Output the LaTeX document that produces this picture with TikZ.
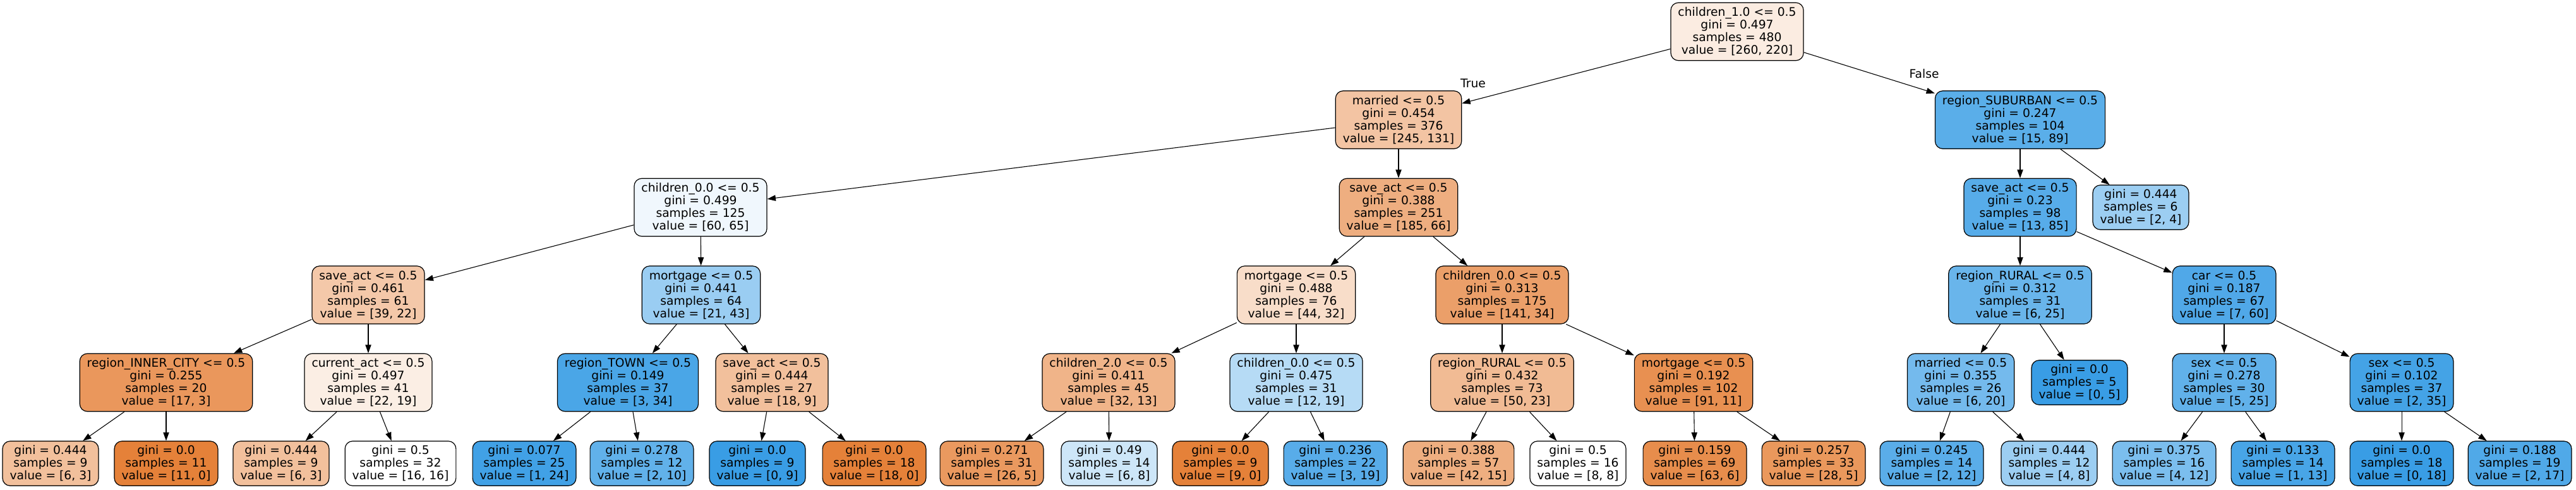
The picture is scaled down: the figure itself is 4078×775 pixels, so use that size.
\documentclass[tikz,border=0pt]{standalone}
\usepackage{fontspec}
\setmainfont{DejaVu Sans}
\usetikzlibrary{arrows.meta}
\definecolor{treeor}{RGB}{229,129,57}
\definecolor{treebl}{RGB}{57,157,229}
\tikzset{
  tn/.style={draw=black, line width=1.2pt, rounded corners=12pt, align=center,
    inner xsep=11.5pt, inner ysep=0pt, minimum height=91.5pt,
    font=\fontsize{18.7}{20}\selectfont, text=black},
  lf/.style={tn, minimum height=70.5pt},
  edge/.style={line width=1.1pt, -{Triangle[length=13.3pt,width=9.3pt]}},
  lab/.style={font=\fontsize{18.7}{20}\selectfont, inner sep=0pt}
}
\begin{document}
\begin{tikzpicture}[x=1pt,y=-1pt]
\useasboundingbox (0,0) rectangle (4078,775);
% level 0
\node[tn, fill=treeor!15.4!white] (r) at (2750,50) {children\_1.0 <= 0.5\\gini = 0.497\\samples = 480\\value = [260, 220]};
% level 1
\node[tn, fill=treeor!46.5!white] (a) at (2214,189.5) {married <= 0.5\\gini = 0.454\\samples = 376\\value = [245, 131]};
\node[tn, fill=treebl!83.1!white] (b) at (3198,189.5) {region\_SUBURBAN <= 0.5\\gini = 0.247\\samples = 104\\value = [15, 89]};
% level 2
\node[tn, fill=treebl!7.7!white] (c) at (1109,328) {children\_0.0 <= 0.5\\gini = 0.499\\samples = 125\\value = [60, 65]};
\node[tn, fill=treeor!64.3!white] (d) at (2214,328) {save\_act <= 0.5\\gini = 0.388\\samples = 251\\value = [185, 66]};
\node[tn, fill=treebl!84.7!white] (e) at (3198,328) {save\_act <= 0.5\\gini = 0.23\\samples = 98\\value = [13, 85]};
\node[lf, fill=treebl!50!white] (f) at (3389,328) {gini = 0.444\\samples = 6\\value = [2, 4]};
% level 3
\node[tn, fill=treeor!43.6!white] (g) at (583,466.5) {save\_act <= 0.5\\gini = 0.461\\samples = 61\\value = [39, 22]};
\node[tn, fill=treebl!51.2!white] (h) at (1110,466.5) {mortgage <= 0.5\\gini = 0.441\\samples = 64\\value = [21, 43]};
\node[tn, fill=treeor!27.3!white] (i) at (2052,466.5) {mortgage <= 0.5\\gini = 0.488\\samples = 76\\value = [44, 32]};
\node[tn, fill=treeor!75.9!white] (j) at (2378,466.5) {children\_0.0 <= 0.5\\gini = 0.313\\samples = 175\\value = [141, 34]};
\node[tn, fill=treebl!76!white] (k) at (3198,466.5) {region\_RURAL <= 0.5\\gini = 0.312\\samples = 31\\value = [6, 25]};
\node[tn, fill=treebl!88.3!white] (l) at (3521,466.5) {car <= 0.5\\gini = 0.187\\samples = 67\\value = [7, 60]};
% level 4
\node[tn, fill=treeor!82.4!white] (m1) at (263,605) {region\_INNER\_CITY <= 0.5\\gini = 0.255\\samples = 20\\value = [17, 3]};
\node[tn, fill=treeor!13.6!white] (m2) at (583,605) {current\_act <= 0.5\\gini = 0.497\\samples = 41\\value = [22, 19]};
\node[tn, fill=treebl!91.2!white] (m3) at (994,605) {region\_TOWN <= 0.5\\gini = 0.149\\samples = 37\\value = [3, 34]};
\node[tn, fill=treeor!50!white] (m4) at (1222,605) {save\_act <= 0.5\\gini = 0.444\\samples = 27\\value = [18, 9]};
\node[tn, fill=treeor!59.4!white] (m5) at (1755,605) {children\_2.0 <= 0.5\\gini = 0.411\\samples = 45\\value = [32, 13]};
\node[tn, fill=treebl!36.8!white] (m6) at (2052,605) {children\_0.0 <= 0.5\\gini = 0.475\\samples = 31\\value = [12, 19]};
\node[tn, fill=treeor!54!white] (m7) at (2378,605) {region\_RURAL <= 0.5\\gini = 0.432\\samples = 73\\value = [50, 23]};
\node[tn, fill=treeor!87.9!white] (m8) at (2681,605) {mortgage <= 0.5\\gini = 0.192\\samples = 102\\value = [91, 11]};
\node[tn, fill=treebl!70!white] (m9) at (3104,605) {married <= 0.5\\gini = 0.355\\samples = 26\\value = [6, 20]};
\node[lf, fill=treebl] (m10) at (3292,605) {gini = 0.0\\samples = 5\\value = [0, 5]};
\node[tn, fill=treebl!80!white] (m11) at (3521,605) {sex <= 0.5\\gini = 0.278\\samples = 30\\value = [5, 25]};
\node[tn, fill=treebl!94.3!white] (m12) at (3802,605) {sex <= 0.5\\gini = 0.102\\samples = 37\\value = [2, 35]};
% level 5
\node[lf, fill=treeor!50!white] (s1) at (80,733) {gini = 0.444\\samples = 9\\value = [6, 3]};
\node[lf, fill=treeor] (s2) at (263,733) {gini = 0.0\\samples = 11\\value = [11, 0]};
\node[lf, fill=treeor!50!white] (s3) at (445,733) {gini = 0.444\\samples = 9\\value = [6, 3]};
\node[lf, fill=white] (s4) at (634,733) {gini = 0.5\\samples = 32\\value = [16, 16]};
\node[lf, fill=treebl!95.8!white] (s5) at (830,733) {gini = 0.077\\samples = 25\\value = [1, 24]};
\node[lf, fill=treebl!80!white] (s6) at (1016,733) {gini = 0.278\\samples = 12\\value = [2, 10]};
\node[lf, fill=treebl] (s7) at (1199,733) {gini = 0.0\\samples = 9\\value = [0, 9]};
\node[lf, fill=treeor] (s8) at (1384,733) {gini = 0.0\\samples = 18\\value = [18, 0]};
\node[lf, fill=treeor!80.8!white] (s9) at (1570,733) {gini = 0.271\\samples = 31\\value = [26, 5]};
\node[lf, fill=treebl!25!white] (s10) at (1756,733) {gini = 0.49\\samples = 14\\value = [6, 8]};
\node[lf, fill=treeor] (s11) at (1932,733) {gini = 0.0\\samples = 9\\value = [9, 0]};
\node[lf, fill=treebl!84.2!white] (s12) at (2114,733) {gini = 0.236\\samples = 22\\value = [3, 19]};
\node[lf, fill=treeor!64.3!white] (s13) at (2309,733) {gini = 0.388\\samples = 57\\value = [42, 15]};
\node[lf, fill=white] (s14) at (2498,733) {gini = 0.5\\samples = 16\\value = [8, 8]};
\node[lf, fill=treeor!90.5!white] (s15) at (2683,733) {gini = 0.159\\samples = 69\\value = [63, 6]};
\node[lf, fill=treeor!82.1!white] (s16) at (2871,733) {gini = 0.257\\samples = 33\\value = [28, 5]};
\node[lf, fill=treebl!83.3!white] (s17) at (3058,733) {gini = 0.245\\samples = 14\\value = [2, 12]};
\node[lf, fill=treebl!50!white] (s18) at (3244,733) {gini = 0.444\\samples = 12\\value = [4, 8]};
\node[lf, fill=treebl!66.7!white] (s19) at (3426,733) {gini = 0.375\\samples = 16\\value = [4, 12]};
\node[lf, fill=treebl!92.3!white] (s20) at (3614,733) {gini = 0.133\\samples = 14\\value = [1, 13]};
\node[lf, fill=treebl] (s21) at (3802,733) {gini = 0.0\\samples = 18\\value = [0, 18]};
\node[lf, fill=treebl!88.2!white] (s22) at (3989,733) {gini = 0.188\\samples = 19\\value = [2, 17]};
% labels
\node[lab] (tl) at (2332,132) {True};
\node[lab] (fl) at (3046,117) {False};
% edges
\draw[edge] (r) -- (a);
\draw[edge] (r) -- (b);
\draw[edge] (a) -- (c);
\draw[edge] (a) -- (d);
\draw[edge] (b) -- (e);
\draw[edge] (b) -- (f);
\draw[edge] (c) -- (g);
\draw[edge] (c) -- (h);
\draw[edge] (d) -- (i);
\draw[edge] (d) -- (j);
\draw[edge] (e) -- (k);
\draw[edge] (e) -- (l);
\draw[edge] (g) -- (m1);
\draw[edge] (g) -- (m2);
\draw[edge] (h) -- (m3);
\draw[edge] (h) -- (m4);
\draw[edge] (i) -- (m5);
\draw[edge] (i) -- (m6);
\draw[edge] (j) -- (m7);
\draw[edge] (j) -- (m8);
\draw[edge] (k) -- (m9);
\draw[edge] (k) -- (m10);
\draw[edge] (l) -- (m11);
\draw[edge] (l) -- (m12);
\draw[edge] (m1) -- (s1);
\draw[edge] (m1) -- (s2);
\draw[edge] (m2) -- (s3);
\draw[edge] (m2) -- (s4);
\draw[edge] (m3) -- (s5);
\draw[edge] (m3) -- (s6);
\draw[edge] (m4) -- (s7);
\draw[edge] (m4) -- (s8);
\draw[edge] (m5) -- (s9);
\draw[edge] (m5) -- (s10);
\draw[edge] (m6) -- (s11);
\draw[edge] (m6) -- (s12);
\draw[edge] (m7) -- (s13);
\draw[edge] (m7) -- (s14);
\draw[edge] (m8) -- (s15);
\draw[edge] (m8) -- (s16);
\draw[edge] (m9) -- (s17);
\draw[edge] (m9) -- (s18);
\draw[edge] (m11) -- (s19);
\draw[edge] (m11) -- (s20);
\draw[edge] (m12) -- (s21);
\draw[edge] (m12) -- (s22);
\end{tikzpicture}
\end{document}
